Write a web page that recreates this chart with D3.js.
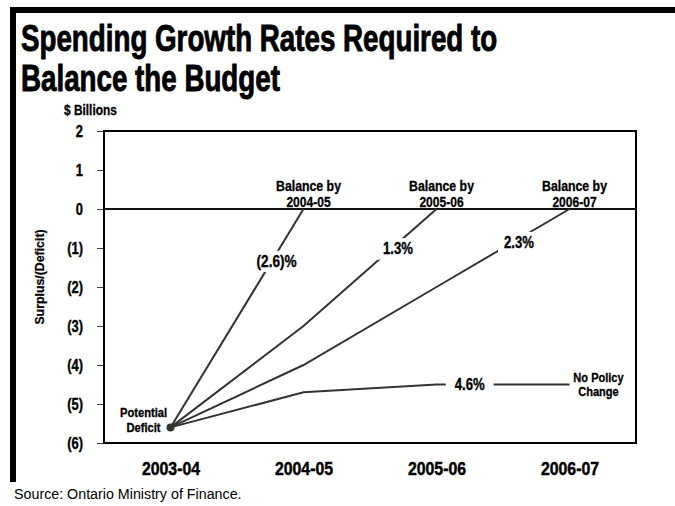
<!DOCTYPE html>
<html><head><meta charset="utf-8">
<script src="https://cdn.jsdelivr.net/npm/d3@7/dist/d3.min.js"></script>
<style>
body{margin:0;background:#fff;}
text{font-family:"Liberation Sans",Arial,sans-serif;}
</style></head>
<body><svg id="c" width="675" height="506"></svg>
<script>
const years = ["2003-04","2004-05","2005-06","2006-07"];
const yTicks = [2,1,0,-1,-2,-3,-4,-5,-6];
const balance0405 = [-5.6, 0];
const balance0506 = [-5.6, -3.0, 0];
const balance0607 = [-5.6, -4.0, -2.0, 0];
const noPolicy = [-5.6, -4.7, -4.5, -4.5];
const seriesNames = ["Balance by\n2004-05","Balance by\n2005-06","Balance by\n2006-07","No Policy\nChange"];
const rateLabels = ["(2.6)%","1.3%","2.3%","4.6%"];
const potentialDeficit = -5.6;

const svg = d3.select("#c");
const L=104, R=636, T=131, B=443;
const x = d3.scalePoint().domain(years).range([L,R]).padding(0.5);
const y = d3.scaleLinear().domain([-6,2]).range([B,T]);

// condensed text helper
function ctext(parent, px, py, str, o){
  o = Object.assign({size:14, weight:"bold", sx:0.85, anchor:"start", fill:"#000", stroke:0.3}, o||{});
  const t = parent.append("text").attr("transform",`translate(${px},${py}) scale(${o.sx},1)`)
    .attr("x",0).attr("y",0).attr("text-anchor",o.anchor).attr("font-size",o.size)
    .attr("font-weight",o.weight).attr("fill",o.fill).text(str);
  if (o.stroke > 0) t.attr("stroke",o.fill).attr("stroke-width",o.stroke);
  return t;
}

// frame bars
svg.append("rect").attr("x",10).attr("y",7).attr("width",665).attr("height",6).attr("fill","#000");
svg.append("rect").attr("x",10).attr("y",7).attr("width",6).attr("height",475).attr("fill","#000");

// title
ctext(svg,21,51,"Spending Growth Rates Required to",{size:37,sx:0.75,stroke:0.9});
ctext(svg,21,91,"Balance the Budget",{size:37,sx:0.75,stroke:0.9});

ctext(svg,64,115,"$ Billions",{size:14,sx:0.85});

// y axis
const SXT = 0.76;
const yAxis = d3.axisLeft(y).tickValues(yTicks).tickSize(7).tickPadding(14)
  .tickFormat(d => d < 0 ? "(" + (-d) + ")" : String(d));
const gy = svg.append("g").attr("transform",`translate(${L},0)`).call(yAxis);
gy.select(".domain").remove();
gy.selectAll("line").attr("stroke","#444");
gy.selectAll("text").attr("font-size",17).attr("font-weight","bold").attr("fill","#000")
  .attr("stroke","#000").attr("stroke-width",0.4)
  .style("font-family",'"Liberation Sans",Arial,sans-serif')
  .attr("x",-21/SXT).attr("transform",`scale(${SXT},1)`);

// rotated y title
svg.append("text").attr("transform",`translate(44,${277}) rotate(-90) scale(0.95,1)`).attr("text-anchor","middle")
  .attr("font-size",13).attr("font-weight","bold").attr("stroke","#000").attr("stroke-width",0.25).text("Surplus/(Deficit)");

// x axis labels
const xAxis = d3.axisBottom(x).tickSize(0).tickPadding(19);
const gx = svg.append("g").attr("transform",`translate(0,${B})`).call(xAxis);
gx.select(".domain").remove();
gx.selectAll("text").attr("font-size",18).attr("font-weight","bold").attr("fill","#000")
  .attr("stroke","#000").attr("stroke-width",0.45)
  .style("font-family",'"Liberation Sans",Arial,sans-serif')
  .attr("transform","scale(0.88,1)");

// plot box
svg.append("rect").attr("x",L).attr("y",T).attr("width",R-L).attr("height",B-T)
  .attr("fill","none").attr("stroke","#000").attr("stroke-width",2);
svg.append("line").attr("x1",L).attr("x2",R).attr("y1",y(0)).attr("y2",y(0)).attr("stroke","#111").attr("stroke-width",2.2);

// lines
const allSeries = [balance0405, balance0506, balance0607, noPolicy];
const line = d3.line().x((d,i)=>x(years[i])).y(d=>y(d));
allSeries.forEach(s=>{
  svg.append("path").datum(s).attr("d",line).attr("fill","none").attr("stroke","#333").attr("stroke-width",2);
});

// rate labels with white backing
function labelAt(cx, cy, txt, size, sx, px, py){
  const g = svg.append("g");
  const t = ctext(g, cx, cy, txt, {size:size, sx:sx, anchor:"middle", stroke:0.35}).attr("dominant-baseline","central");
  const bb = t.node().getBBox();
  const w = bb.width*sx;
  g.insert("rect","text").attr("x",cx-w/2-px).attr("y",cy+bb.y-py).attr("width",w+2*px).attr("height",bb.height+2*py).attr("fill","#fff");
}
function along(s, seg, f){
  const x0=x(years[seg]), x1=x(years[seg+1]), y0=y(s[seg]), y1=y(s[seg+1]);
  return [x0+(x1-x0)*f, y0+(y1-y0)*f];
}
let p;
p = along(balance0405,0,0.76); labelAt(p[0]+5,p[1],rateLabels[0],16,0.85,6,2);
p = along(balance0506,1,0.71); labelAt(p[0],p[1]+6,rateLabels[1],16,0.82,6,2);
p = along(balance0607,2,0.62); labelAt(p[0],p[1]+4,rateLabels[2],16,0.82,6,2);
p = along(noPolicy,2,0.25); labelAt(p[0],p[1],rateLabels[3],16,0.82,9,2);

// series end labels
[balance0405,balance0506,balance0607].forEach((s,i)=>{
  const xe = x(years[s.length-1]) + 5;
  const parts = seriesNames[i].split("\n");
  ctext(svg, xe, y(0)-18, parts[0], {size:14, sx:0.88, anchor:"middle"});
  ctext(svg, xe, y(0)-2, parts[1], {size:14, sx:0.86, anchor:"middle"});
});
{
  const parts = seriesNames[3].split("\n");
  const xe = x(years[3]) + 29, ye = y(noPolicy[3]);
  ctext(svg, xe, ye-3, parts[0], {size:13, sx:0.85, anchor:"middle"});
  ctext(svg, xe, ye+11, parts[1], {size:13, sx:0.85, anchor:"middle"});
}

// potential deficit dot and label
svg.append("circle").attr("cx",x(years[0])).attr("cy",y(potentialDeficit)).attr("r",4).attr("fill","#333");
ctext(svg, x(years[0])-27, y(potentialDeficit)-10, "Potential", {size:12, sx:0.93, anchor:"middle"});
ctext(svg, x(years[0])-27, y(potentialDeficit)+5, "Deficit", {size:12, sx:0.93, anchor:"middle"});

ctext(svg, 14, 499, "Source: Ontario Ministry of Finance.", {size:14, weight:"normal", sx:1.02, stroke:0});
</script></body></html>
